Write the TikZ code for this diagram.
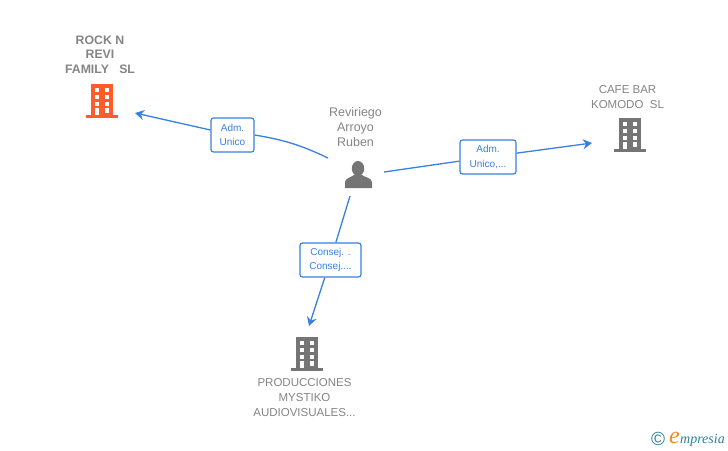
\documentclass[tikz,border=0pt]{standalone}
\usepackage{fontspec}
\setmainfont{Liberation Sans}
\newfontfamily\logofont{Liberation Serif}
\usepackage{tikz}
\usetikzlibrary{
  positioning,
  arrows.meta
}
\definecolor{linkblue}{HTML}{3A80E0}
\definecolor{textgray}{HTML}{858585}
\definecolor{icongray}{HTML}{757575}
\definecolor{rockorange}{HTML}{FF5C2B}
\definecolor{logoteal}{HTML}{2F7F9B}
\definecolor{logoorange}{HTML}{F28A1E}
\tikzset{
  >={Stealth[length=9pt, width=10pt, inset=3pt]},
  x=1pt,
  y=-1pt,
  link/.style={draw=linkblue, line width=1.3pt},
  tip/.style={link, ->},
  rolebox/.style={draw=linkblue, line width=1.2pt, rounded corners=2.5pt, fill=white,
    text=linkblue, font=\fontsize{10}{14.6}\selectfont, align=center, inner sep=0pt},
  icon/.style={minimum size=30pt, inner sep=0pt},
  company/.style={text=textgray, font=\fontsize{11.5}{14.7}\selectfont, align=center, inner sep=0pt},
  building/.pic={
    \fill[pic actions] (-11,-16) rectangle (11,15);
    \fill[pic actions] (-16,15) rectangle (16,18);
    \foreach \wy in {-12,-5,2}{
      \fill[white] (-7,\wy) rectangle (-2.6,\wy+4);
      \fill[white] (2.7,\wy) rectangle (7.3,\wy+4);
    }
    \fill[white] (-7,8) rectangle (-2.6,15);
    \fill[white] (2.7,8) rectangle (7.3,12.5);
  }
}

\begin{document}
\begin{tikzpicture}
    \useasboundingbox[fill=white] (0,0) rectangle (728,450);

    % icons
    \node[icon] (rock) at (102,100) {};
    \node[icon] (ruben) at (358,174) {};
    \node[icon] (cafe) at (630,134) {};
    \node[icon] (mystiko) at (307,353) {};
    \pic[fill=rockorange] at (rock) {building};
    \pic[fill=icongray] at (cafe) {building};
    \pic[fill=icongray] at (mystiko) {building};
    \fill[icongray] (ruben) ++(0,-5.5) ellipse (6.2 and 7.5);
    \fill[icongray] (345,188) -- (345,182) .. controls (345,178) and (352,177) .. (354,175)
      -- (362,175) .. controls (364,177) and (372,178) .. (372,182) -- (372,188) -- cycle;

    % names
    \node[company, font=\bfseries\fontsize{12.3}{14.7}\selectfont, above=11pt of rock, xshift=-2pt] (rocktext) {ROCK N\\REVI\\FAMILY\ \ \ SL};
    \node[company, font=\fontsize{12.5}{15}\selectfont, above=12pt of ruben, xshift=-2.5pt] (rubentext) {Reviriego\\Arroyo\\Ruben};
    \node[company, above=10pt of cafe, xshift=-2.5pt] (cafetext) {CAFE BAR\\KOMODO\ \ SL};
    \node[company, below=10.5pt of mystiko, xshift=-2.5pt] (mystikotext) {PRODUCCIONES\\MYSTIKO\\AUDIOVISUALES...};

    % roles
    \node[rolebox, minimum width=43pt, minimum height=34pt] (adm1) at (232.5,135) {Adm.\\Unico};
    \node[rolebox, minimum width=56pt, minimum height=34pt] (adm2) at (488,157) {Adm.\\Unico,...};
    \node[rolebox, minimum width=61pt, minimum height=34pt] (consej) at (330.5,260) {Consej. .\\Consej....};

    % free ends
    \coordinate (rubenw) at (328,158);
    \coordinate (rubene) at (384,172);
    \coordinate (rubens) at (350,196);
    \coordinate (rockin) at (135,113);
    \coordinate (cafein) at (592,143);
    \coordinate (mystikoin) at (309,326);

    % connectors
    \draw[link] (rubenw) to[bend right=8] (adm1.east);
    \draw[tip] (adm1) -- (rockin);
    \draw[link] (rubene) -- (adm2);
    \draw[tip] (adm2) -- (cafein);
    \draw[link] (rubens) -- (consej);
    \draw[tip] (consej) -- (mystikoin);

    % logo
    \node[inner sep=0pt, text=logoteal, font=\fontsize{19}{19}\selectfont] (copyr) at (658,439) {©};
    \node[inner sep=0pt, anchor=base west, text=logoteal, font=\logofont\itshape\fontsize{14}{14}\selectfont] (logo) at (680,443) {mpresia};
    \node[inner sep=0pt, anchor=base east, text=logoorange, font=\logofont\itshape\fontsize{24}{24}\selectfont] (logoe) at (logo.base west) {e};
\end{tikzpicture}
\end{document}
